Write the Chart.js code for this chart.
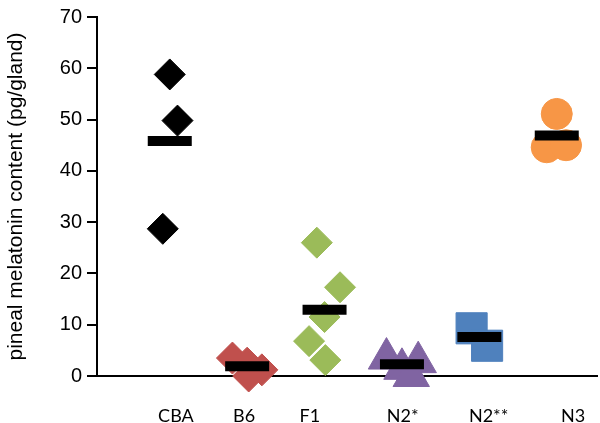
<!DOCTYPE html>
<html>
<head>
<meta charset="utf-8">
<script src="https://cdn.jsdelivr.net/npm/chart.js@4.4.1/dist/chart.umd.min.js"></script>
<style>
  html, body { margin: 0; padding: 0; background: #ffffff; }
  #wrap { position: relative; width: 600px; height: 423px; }
</style>
</head>
<body>
<div id="wrap"><canvas id="c" width="600" height="423"></canvas></div>
<script>
// ---- data ----
const categories = ['CBA', 'B6', 'F1', 'N2*', 'N2**', 'N3'];
const labelPositions = [0.08, 0.96, 1.81, 3.01, 4.12, 5.21];   // where each category name sits on the x axis
const yTicks = [0, 10, 20, 30, 40, 50, 60, 70];

const cbaJitter = [0, 0.1, -0.09];
const cbaValues = [58.8, 49.8, 28.7];

const b6Jitter = [-0.19, 0, 0.19, 0.02];
const b6Values = [3.5, 2.5, 1.2, 0];

const f1Jitter = [-0.1, 0.2, 0, -0.2, 0.01];
const f1Values = [26.0, 17.3, 11.5, 6.8, 3.1];

const n2aJitter = [-0.2, 0, 0.21, 0.12];
const n2aValues = [3.4, 1.4, 2.7, 0];

const n2bJitter = [-0.1, 0.1];
const n2bValues = [9.3, 5.9];

const n3Jitter = [0, -0.13, 0.12];
const n3Values = [51.1, 44.6, 45.0];

const means = [45.8, 1.9, 12.9, 2.3, 7.6, 46.9];

// ---- build datasets ----
function pts(groupIndex, jitter, values) {
  return values.map((v, i) => ({ x: groupIndex + jitter[i], y: v }));
}
function group(label, idx, jitter, values, color, style, radius) {
  return {
    label, data: pts(idx, jitter, values),
    pointStyle: style, pointRadius: radius,
    backgroundColor: color, borderColor: color, borderWidth: 1,
    showLine: false, clip: false
  };
}

const datasets = [
  {
    label: 'mean',
    data: means.map((m, i) => ({ x: i, y: m })),
    pointStyle: 'line', pointRadius: 22,
    borderColor: '#000000', backgroundColor: '#000000', borderWidth: 10,
    showLine: false, clip: false
  },
  group('CBA', 0, cbaJitter, cbaValues, '#000000', 'rectRot', 15.5),
  group('B6', 1, b6Jitter, b6Values, '#c0504d', 'rectRot', 16),
  group('F1', 2, f1Jitter, f1Values, '#9bbb59', 'rectRot', 15.5),
  group('N2*', 3, n2aJitter, n2aValues, '#8064a2', 'triangle', 21),
  group('N2**', 4, n2bJitter, n2bValues, '#4f81bd', 'rect', 22),
  group('N3', 5, n3Jitter, n3Values, '#f79646', 'circle', 15.5)
];

new Chart(document.getElementById('c'), {
  type: 'scatter',
  data: { datasets },
  options: {
    responsive: false,
    animation: false,
    events: [],
    layout: { autoPadding: false, padding: { top: 15, right: 3, left: 0, bottom: 0 } },
    plugins: { legend: { display: false }, tooltip: { enabled: false } },
    scales: {
      x: {
        type: 'linear',
        min: -0.94, max: 5.52,
        afterBuildTicks: (scale) => { scale.ticks = labelPositions.map(v => ({ value: v })); },
        afterFit: (scale) => { scale.height = 47; },
        ticks: {
          autoSkip: false, maxRotation: 0,
          padding: 3,
          color: '#000000',
          font: { family: 'Lato', size: 18 },
          callback: (value, index) => categories[index]
        },
        grid: { display: true, drawOnChartArea: false, drawTicks: true, tickLength: 26, color: 'rgba(0,0,0,0)' },
        border: { display: true, color: '#000000', width: 2 }
      },
      y: {
        min: 0, max: 70,
        afterBuildTicks: (scale) => { scale.ticks = yTicks.map(v => ({ value: v })); },
        afterFit: (scale) => { scale.width = 97; },
        ticks: {
          padding: 5,
          color: '#000000',
          font: { family: 'Liberation Sans', size: 20 }
        },
        grid: { display: true, drawOnChartArea: false, drawTicks: true, tickLength: 10, color: '#000000', lineWidth: 2 },
        border: { display: true, color: '#000000', width: 2 },
        title: {
          display: true,
          text: 'pineal melatonin content (pg/gland)',
          color: '#000000',
          font: { family: 'Liberation Sans', size: 21 },
          padding: { top: 4, bottom: 0 }
        }
      }
    }
  }
});
</script>
</body>
</html>
